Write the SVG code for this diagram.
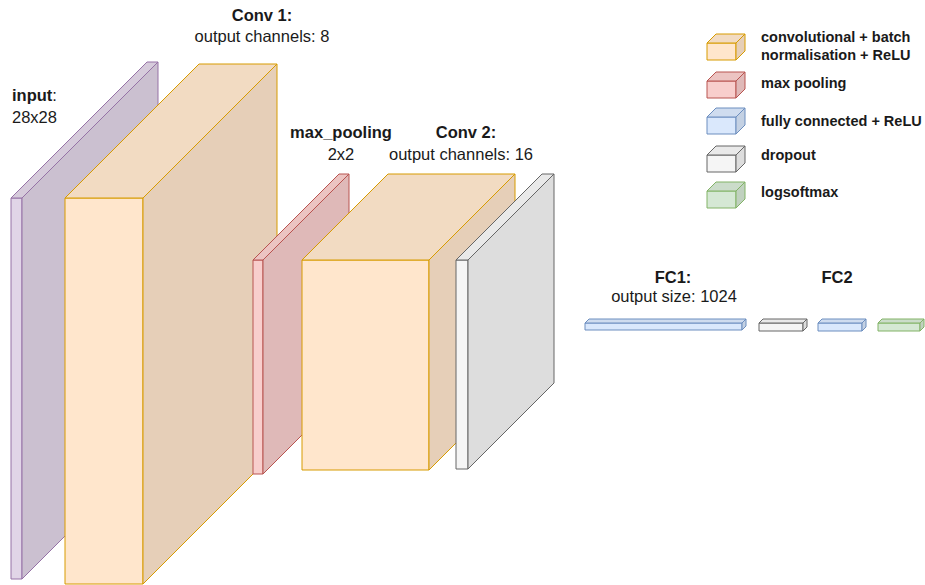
<svg xmlns="http://www.w3.org/2000/svg" width="925" height="585" viewBox="0 0 925 585">
<style>
  .lbl{font-family:"Liberation Sans",Arial,sans-serif;font-size:16.5px;fill:#1a1a1a}
  .b{font-weight:bold}
  .leg{font-family:"Liberation Sans",Arial,sans-serif;font-size:14.5px;font-weight:bold;fill:#1a1a1a}
  .c path,.c rect{stroke-width:1;stroke-linejoin:round}
  .or rect{fill:#ffe6cc;stroke:#d79b00}.or .t{fill:#f2dbc2;stroke:#d79b00}.or .s{fill:#e6cfb8;stroke:#d79b00}
  .pu rect{fill:#e1d5e7;stroke:#9673a6}.pu .t{fill:#d6cbdb;stroke:#9673a6}.pu .s{fill:#cbc0d0;stroke:#9673a6}
  .rd rect{fill:#f8cecc;stroke:#b85450}.rd .t{fill:#ecc4c2;stroke:#b85450}.rd .s{fill:#dfb9b8;stroke:#b85450}
  .bl rect{fill:#dae8fc;stroke:#6c8ebf}.bl .t{fill:#cfdcef;stroke:#6c8ebf}.bl .s{fill:#c4d1e3;stroke:#6c8ebf}
  .gy rect{fill:#f5f5f5;stroke:#666666}.gy .t{fill:#e9e9e9;stroke:#666666}.gy .s{fill:#dddddd;stroke:#666666}
  .gr rect{fill:#d5e8d4;stroke:#82b366}.gr .t{fill:#cbdcca;stroke:#82b366}.gr .s{fill:#c0d1bf;stroke:#82b366}
</style>
<rect width="925" height="585" fill="#ffffff"/>

<!-- input: x=11 y=198 w=11 h=381 d=136 -->
<g id="input" class="c pu">
  <rect x="11" y="198" width="11" height="381"/>
  <path class="t" d="M11 198 L147 62 L158 62 L22 198 Z"/>
  <path class="s" d="M22 198 L158 62 L158 443 L22 579 Z"/>
  <text class="lbl" x="12" y="101"><tspan class="b">input</tspan>:</text>
  <text class="lbl" x="12" y="123">28x28</text>
</g>

<!-- conv1: x=65 y=198 w=78 h=386 d=134 -->
<g id="conv1" class="c or">
  <rect x="65" y="198" width="78" height="386"/>
  <path class="t" d="M65 198 L199 64 L277 64 L143 198 Z"/>
  <path class="s" d="M143 198 L277 64 L277 450 L143 584 Z"/>
  <text class="lbl b" x="262" y="21" text-anchor="middle">Conv 1:</text>
  <text class="lbl" x="262" y="42" text-anchor="middle">output channels: 8</text>
</g>

<!-- maxpool: x=253 y=260 w=10 h=214 d=86 -->
<g id="maxpool" class="c rd">
  <rect x="253" y="260" width="10" height="214"/>
  <path class="t" d="M253 260 L339 174 L349 174 L263 260 Z"/>
  <path class="s" d="M263 260 L349 174 L349 388 L263 474 Z"/>
  <text class="lbl b" x="341" y="138" text-anchor="middle">max_pooling</text>
  <text class="lbl" x="341" y="160" text-anchor="middle">2x2</text>
</g>

<!-- conv2: x=302 y=260 w=127 h=210 d=86 -->
<g id="conv2" class="c or">
  <rect x="302" y="260" width="127" height="210"/>
  <path class="t" d="M302 260 L388 174 L515 174 L429 260 Z"/>
  <path class="s" d="M429 260 L515 174 L515 384 L429 470 Z"/>
  <text class="lbl b" x="466" y="138" text-anchor="middle">Conv 2:</text>
  <text class="lbl" x="461" y="160" text-anchor="middle">output channels: 16</text>
</g>

<!-- dropout: x=456 y=260 w=12 h=209 d=86 -->
<g id="dropout1" class="c gy">
  <rect x="456" y="260" width="12" height="209"/>
  <path class="t" d="M456 260 L542 174 L554 174 L468 260 Z"/>
  <path class="s" d="M468 260 L554 174 L554 383 L468 469 Z"/>
</g>

<!-- FC1 -->
<g id="fc1" class="c bl">
  <rect x="585" y="323" width="157" height="7"/>
  <path class="t" d="M585 323 L589 319 L746 319 L742 323 Z"/>
  <path class="s" d="M742 323 L746 319 L746 326 L742 330 Z"/>
  <text class="lbl b" x="673" y="283" text-anchor="middle">FC1:</text>
  <text class="lbl" x="674" y="302" text-anchor="middle">output size: 1024</text>
</g>

<g id="dropout2" class="c gy">
  <rect x="759" y="323" width="44" height="8"/>
  <path class="t" d="M759 323 L763 319 L807 319 L803 323 Z"/>
  <path class="s" d="M803 323 L807 319 L807 327 L803 331 Z"/>
</g>

<g id="fc2" class="c bl">
  <rect x="818" y="323" width="44" height="8"/>
  <path class="t" d="M818 323 L822 319 L866 319 L862 323 Z"/>
  <path class="s" d="M862 323 L866 319 L866 327 L862 331 Z"/>
  <text class="lbl b" x="837" y="283" text-anchor="middle">FC2</text>
</g>

<g id="logsoftmax" class="c gr">
  <rect x="878" y="323" width="42" height="8"/>
  <path class="t" d="M878 323 L882 319 L924 319 L920 323 Z"/>
  <path class="s" d="M920 323 L924 319 L924 327 L920 331 Z"/>
</g>

<!-- legend -->
<g id="legend-conv" class="c or">
  <rect x="707" y="43" width="29" height="17"/>
  <path class="t" d="M707 43 L716 34 L745 34 L736 43 Z"/>
  <path class="s" d="M736 43 L745 34 L745 51 L736 60 Z"/>
  <text class="leg" x="761" y="42">convolutional + batch</text>
  <text class="leg" x="761" y="60">normalisation + ReLU</text>
</g>
<g id="legend-pool" class="c rd">
  <rect x="707" y="81" width="29" height="17"/>
  <path class="t" d="M707 81 L716 72 L745 72 L736 81 Z"/>
  <path class="s" d="M736 81 L745 72 L745 89 L736 98 Z"/>
  <text class="leg" x="761" y="88">max pooling</text>
</g>
<g id="legend-fc" class="c bl">
  <rect x="707" y="117" width="29" height="17"/>
  <path class="t" d="M707 117 L716 108 L745 108 L736 117 Z"/>
  <path class="s" d="M736 117 L745 108 L745 125 L736 134 Z"/>
  <text class="leg" x="761" y="126">fully connected + ReLU</text>
</g>
<g id="legend-dropout" class="c gy">
  <rect x="707" y="155" width="29" height="17"/>
  <path class="t" d="M707 155 L716 146 L745 146 L736 155 Z"/>
  <path class="s" d="M736 155 L745 146 L745 163 L736 172 Z"/>
  <text class="leg" x="761" y="160">dropout</text>
</g>
<g id="legend-logsoftmax" class="c gr">
  <rect x="707" y="191" width="29" height="17"/>
  <path class="t" d="M707 191 L716 182 L745 182 L736 191 Z"/>
  <path class="s" d="M736 191 L745 182 L745 199 L736 208 Z"/>
  <text class="leg" x="761" y="197">logsoftmax</text>
</g>

<g id="connectors"></g>
</svg>
